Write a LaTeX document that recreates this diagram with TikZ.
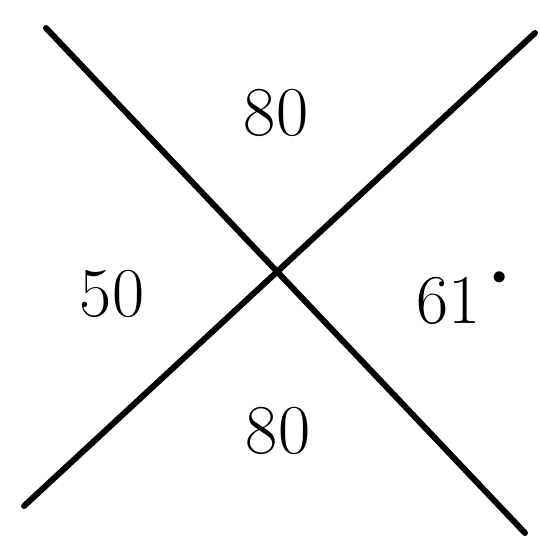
\documentclass[tikz,border=0pt]{standalone}
\begin{document}
\begin{tikzpicture}[x=0.5pt,y=-0.5pt,
  ray/.style={line width=3pt,line cap=round},
  lab/.style={font=\fontsize{35}{40}\selectfont,inner sep=0pt,anchor=center}]
\useasboundingbox (0,0) rectangle (540,536);
\coordinate (a1) at (46,28);
\coordinate (a2) at (525,533);
\coordinate (b1) at (24,506);
\coordinate (b2) at (535,33);
\draw[ray] (a1) -- (a2);
\draw[ray] (b1) -- (b2);
\node[lab] (top) at (276,113) {80};
\node[lab] (left) at (112,294) {50};
\node[lab] (right) at (462,298) {61\,\raisebox{0.55em}{\fontsize{14}{14}\selectfont$\bullet$}};
\node[lab] (bottom) at (278,431) {80};
\end{tikzpicture}
\end{document}
